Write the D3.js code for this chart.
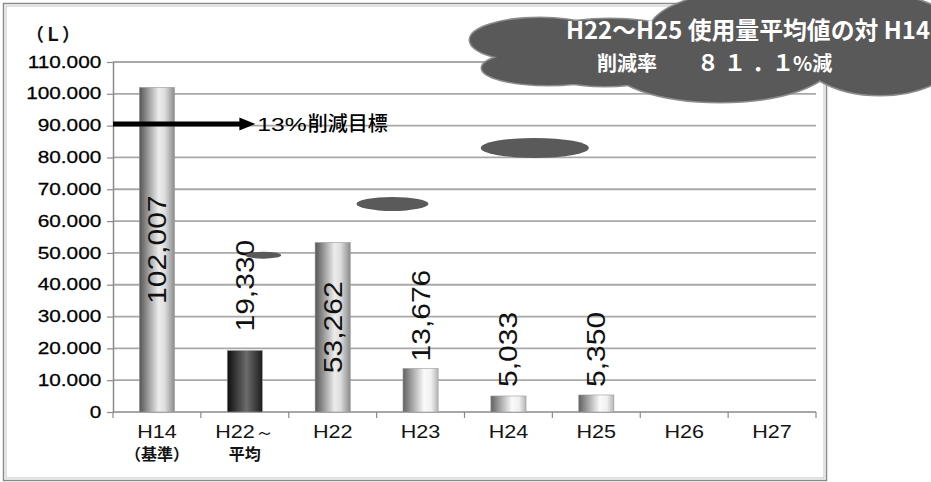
<!DOCTYPE html>
<html><head><meta charset="utf-8">
<script src="https://cdn.jsdelivr.net/npm/d3@7"></script>
<style>
html,body{margin:0;padding:0;background:#fff;}
svg{display:block;}
</style></head>
<body>
<svg id="chart" width="931" height="482"></svg>
<script>
// ---------- data ----------
const categories = ["H14","H22～平均","H22","H23","H24","H25","H26","H27"];
const xLabelLine1 = ["H14","H22～","H22","H23","H24","H25","H26","H27"];
const xLabelLine2 = ["（基準）","平均","","","","","",""];
const values = [102007, 19330, 53262, 13676, 5033, 5350, null, null];
const yTickValues = [0,10000,20000,30000,40000,50000,60000,70000,80000,90000,100000,110000];
const yUnitLabel = "（Ｌ）";
const targetValue = 90500;
const targetTipIndex = 1.62;
const targetLabel = ["13%", "削減目標"];
const cloudLine1 = "H22～H25 使用量平均値の対 H14";
const cloudLine2 = ["削減率", "８１．１", "%減"];
// decorative dark blobs: [category-index position, value]
const blobIndex = [1.71, 3.18, 4.80];
const blobValue = [49300, 65400, 83000];

// ---------- styles ----------
const barStyle = ["gray","dark","gray","white","white","white","white","white"];
const labelNudge = [0, 12, 0, 0, 2, 1, 0, 0];
const blobR = [[18,3.5],[36,7],[54,10]];

const svg = d3.select("#chart");
const W = 931, H = 482;
const M = {left:113, right:816, top:62, bottom:412};

const x = d3.scaleBand().domain(categories).range([M.left, M.right]).paddingInner(0.6).paddingOuter(0.3);
const xc = d3.scaleLinear().domain([0, categories.length]).range([M.left, M.right]);
const y = d3.scaleLinear().domain([0, 110000]).range([M.bottom, M.top]);

svg.append("rect").attr("width", W).attr("height", H).attr("fill", "#fff");

// gradients
const defs = svg.append("defs");
const grads = {
  gray: [[0,"#555"],[0.55,"#ececec"],[0.72,"#dedede"],[1,"#8c8c8c"]],
  dark: [[0,"#0e0e0e"],[0.55,"#6c6c6c"],[1,"#1c1c1c"]],
  white: [[0,"#626262"],[0.6,"#fafafa"],[0.8,"#f0f0f0"],[1,"#b5b5b5"]]
};
Object.entries(grads).forEach(([k, stops]) => {
  const g = defs.append("linearGradient").attr("id", "g-" + k).attr("x1","0").attr("x2","1").attr("y1","0").attr("y2","0");
  stops.forEach(s => g.append("stop").attr("offset", s[0]).attr("stop-color", s[1]));
});

// frame
svg.append("rect").attr("x",3.5).attr("y",3.5).attr("width",823).attr("height",477)
  .attr("fill","none").attr("stroke","#8a8a8a").attr("stroke-width",1.5);
svg.append("rect").attr("x",6).attr("y",6).attr("width",818).attr("height",472)
  .attr("fill","none").attr("stroke","#c4c4c4").attr("stroke-width",1);

// gridlines
svg.append("g").selectAll("line").data(yTickValues.filter(v => v > 0)).join("line")
  .attr("x1", M.left).attr("x2", M.right)
  .attr("y1", d => y(d)).attr("y2", d => y(d))
  .attr("stroke", "#a8a8a8").attr("stroke-width", 1.8);

// y axis
const fmtTick = d3.formatLocale({decimal:",", thousands:".", grouping:[3], currency:["",""]}).format(",");
const yAxis = svg.append("g").attr("transform", `translate(${M.left},0)`)
  .call(d3.axisLeft(y).tickValues(yTickValues).tickFormat(fmtTick).tickSize(6).tickSizeOuter(0).tickPadding(3));
yAxis.select(".domain").attr("stroke", "#8a8a8a").attr("stroke-width", 1.5);
yAxis.selectAll(".tick line").attr("stroke", "#8a8a8a").attr("stroke-width", 1.2);
yAxis.selectAll(".tick text")
  .attr("font-family", "'Liberation Sans', Arial, sans-serif")
  .attr("font-size", 16).attr("fill", "#000")
  .attr("stroke", "#000").attr("stroke-width", 0.25)
  .attr("transform", "scale(1.3,1)");

// x axis
svg.append("line").attr("x1", M.left).attr("x2", M.right).attr("y1", M.bottom).attr("y2", M.bottom)
  .attr("stroke", "#8a8a8a").attr("stroke-width", 1.5);
svg.append("g").selectAll("line").data(d3.range(categories.length + 1)).join("line")
  .attr("x1", d => xc(d)).attr("x2", d => xc(d))
  .attr("y1", M.bottom).attr("y2", M.bottom + 6)
  .attr("stroke", "#8a8a8a").attr("stroke-width", 1.2);

const xl = svg.append("g");
categories.forEach((c, i) => {
  const cx = x(c) + x.bandwidth() / 2;
  const t = xl.append("text").attr("text-anchor", "middle")
    .attr("transform", `translate(${cx},${M.bottom + 26}) scale(1.2,1)`)
    .attr("font-family", "'Liberation Sans', Arial, sans-serif")
    .attr("font-size", 18).attr("fill", "#141414");
  const lab = xLabelLine1[i];
  const k = lab.indexOf("～");
  if (k >= 0) {
    t.append("tspan").text(lab.slice(0, k));
    t.append("tspan").attr("font-size", 16).text(lab.slice(k));
  } else {
    t.text(lab);
  }
  if (xLabelLine2[i]) {
    xl.append("text").attr("text-anchor", "middle")
      .attr("x", cx).attr("y", M.bottom + 48)
      .attr("font-family", "'Noto Sans CJK JP', sans-serif").attr("font-weight", 700)
      .attr("font-size", 16).attr("fill", "#141414").text(xLabelLine2[i]);
  }
});

// bars
const barData = categories.map((c, i) => ({c, v: values[i], i})).filter(d => d.v != null);
svg.append("g").selectAll("rect").data(barData).join("rect")
  .attr("x", d => x(d.c)).attr("width", x.bandwidth())
  .attr("y", d => y(d.v)).attr("height", d => y(0) - y(d.v))
  .attr("fill", d => `url(#g-${barStyle[d.i]})`)
  .attr("stroke", "#9a9a9a").attr("stroke-width", 0.6);

// data labels
const fmtLabel = d3.format(",");
svg.append("g").selectAll("text").data(barData).join("text")
  .attr("transform", d => {
    const cx = x(d.c) + x.bandwidth() / 2;
    const inside = d.v > 50000;
    const cy = inside ? (y(d.v) + y(0)) / 2 : y(d.v) - 7 - labelNudge[d.i];
    return `translate(${cx},${cy}) rotate(-90) scale(1.2,1)`;
  })
  .attr("text-anchor", d => d.v > 50000 ? "middle" : "start")
  .attr("dy", "0.36em")
  .attr("font-family", "'Liberation Sans', Arial, sans-serif")
  .attr("font-size", 25).attr("fill", "#111")
  .text(d => fmtLabel(d.v));

// target arrow
const ay = y(targetValue);
const tip = xc(targetTipIndex);
svg.append("line").attr("x1", M.left).attr("x2", tip - 12).attr("y1", ay).attr("y2", ay)
  .attr("stroke", "#000").attr("stroke-width", 5);
svg.append("path").attr("d", `M${tip - 16},${ay - 6.5} L${tip},${ay} L${tip - 16},${ay + 6.5} Z`).attr("fill", "#000");
const t1 = svg.append("text")
  .attr("transform", `translate(${tip + 2},${ay}) scale(1.3,1)`)
  .attr("dy", "0.36em")
  .attr("font-family", "'Liberation Sans', Arial, sans-serif")
  .attr("font-size", 19).attr("fill", "#000").text(targetLabel[0]);
const t1w = t1.node().getComputedTextLength() * 1.3;
svg.append("text").attr("x", tip + 2 + t1w + 1).attr("y", ay).attr("dy", "0.36em")
  .attr("font-family", "'Noto Sans CJK JP', sans-serif").attr("font-weight", 500)
  .attr("font-size", 20).attr("fill", "#000").text(targetLabel[1]);

// decorative blobs
svg.append("g").selectAll("ellipse").data(blobIndex).join("ellipse")
  .attr("cx", d => xc(d)).attr("cy", (d, i) => y(blobValue[i]))
  .attr("rx", (d, i) => blobR[i][0]).attr("ry", (d, i) => blobR[i][1])
  .attr("fill", "#5a5a5a");

// unit label
svg.append("text").attr("x", 26).attr("y", 41)
  .attr("font-family", "'Noto Sans CJK JP', sans-serif").attr("font-weight", 700)
  .attr("font-size", 18).attr("fill", "#111").text(yUnitLabel);

// cloud callout
const cloudParts = [
  [540, 40, 70, 22],
  [548, 68, 66, 17],
  [605, 70, 60, 16],
  [610, 45, 85, 26],
  [720, 62, 112, 40],
  [800, 30, 150, 45],
  [880, 45, 85, 50]
];
const cloud = svg.append("g");
cloud.selectAll("ellipse.o").data(cloudParts).join("ellipse").attr("class","o")
  .attr("cx", d => d[0]).attr("cy", d => d[1]).attr("rx", d => d[2]).attr("ry", d => d[3])
  .attr("fill", "#595959").attr("stroke", "#8c8c8c").attr("stroke-width", 3);
cloud.selectAll("ellipse.f").data(cloudParts).join("ellipse").attr("class","f")
  .attr("cx", d => d[0]).attr("cy", d => d[1]).attr("rx", d => d[2]).attr("ry", d => d[3])
  .attr("fill", "#595959");

cloud.append("text").attr("x", 566).attr("y", 39)
  .attr("font-family", "'Noto Sans CJK JP', sans-serif").attr("font-weight", 700)
  .attr("font-size", 24).attr("fill", "#fff")
  .attr("textLength", 364).attr("lengthAdjust", "spacingAndGlyphs")
  .text(cloudLine1);
const l2 = cloud.append("text").attr("y", 71)
  .attr("font-family", "'Noto Sans CJK JP', sans-serif").attr("font-weight", 700)
  .attr("font-size", 20).attr("fill", "#fff");
l2.append("tspan").attr("x", 597).text(cloudLine2[0]);
l2.append("tspan").attr("x", "697 724 752 772").attr("font-size", 22).text(cloudLine2[1]);
l2.append("tspan").attr("x", 793).text(cloudLine2[2]);
</script>
</body></html>
